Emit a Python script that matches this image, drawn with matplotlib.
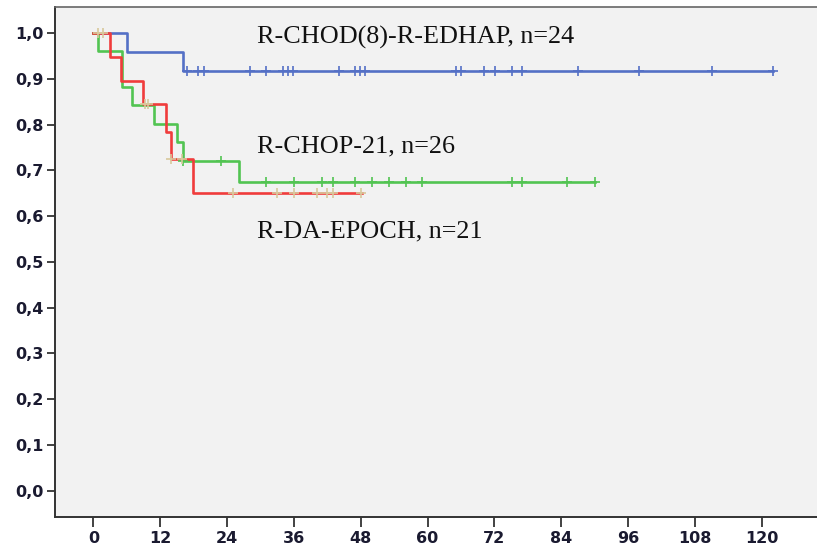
import numpy as np
import matplotlib
matplotlib.use('Agg')
import matplotlib.pyplot as plt

# Kaplan-Meier steps (event times in months, survival after each step)
blue_times = [0, 6.0, 16.1]
blue_surv = [1.0, 0.958, 0.917]
blue_end = 122.0
blue_cens = [16.9, 18.8, 19.9, 28.1, 31.0, 34.1, 35.0, 35.9, 44.1, 47.0, 47.9, 48.8,
             65.1, 66.0, 70.1, 72.1, 75.1, 77.0, 87.0, 98.0, 111.0, 122.0]

green_times = [0, 0.9, 5.1, 6.9, 10.9, 15.0, 16.1, 26.1]
green_surv = [1.0, 0.961, 0.882, 0.842, 0.802, 0.761, 0.721, 0.675]
green_end = 90.0
green_cens = [16.1, 23.0, 31.0, 36.0, 41.0, 43.1, 47.0, 50.0, 53.1, 56.1, 59.0,
              75.1, 77.0, 85.1, 90.0]

red_times = [0, 3.0, 5.0, 9.0, 13.0, 13.9, 17.9]
red_surv = [1.0, 0.948, 0.896, 0.844, 0.783, 0.724, 0.651]
red_end = 48.3
red_cens = [0.9, 1.7, 9.3, 9.9, 13.9, 16.0, 25.0, 32.9, 36.0, 40.1, 42.0, 43.0, 48.0]

labels = ['R-CHOD(8)-R-EDHAP, n=24', 'R-CHOP-21, n=26', 'R-DA-EPOCH, n=21']
label_pos = [(29.3, 0.976), (29.3, 0.740), (29.3, 0.554)]

xticks = list(range(0, 121, 12))
yticks = [i / 10 for i in range(0, 11)]


def surv_at(times, surv, t):
    # value of the step function at time t
    idx = np.searchsorted(times, t, side='right') - 1
    return np.array(surv)[idx]


fig = plt.figure(figsize=(8.17, 5.46), dpi=100)
ax = fig.add_axes([0.067, 0.0537, 0.933, 0.934])
ax.set_facecolor('#f2f2f2')

curves = [
    (blue_times, blue_surv, blue_end, blue_cens, '#5470c6', '#5470c6'),
    (green_times, green_surv, green_end, green_cens, '#52c452', '#52c452'),
    (red_times, red_surv, red_end, red_cens, '#f03c3c', '#d8c89c'),
]

for times, surv, end, cens, col, ccol in curves:
    ax.step(times + [end], surv + [surv[-1]], where='post', color=col, lw=1.9, zorder=3)
    cy = surv_at(times, surv, np.array(cens))
    ax.plot(cens, cy, ls='none', marker='+', ms=6.5, mew=1.2, color=ccol, zorder=4)

for txt, (x, y) in zip(labels, label_pos):
    ax.text(x, y, txt, family='Liberation Serif', fontsize=18.8, color='#111111',
            va='baseline', ha='left')

ax.set_xlim(-6.93, 129.9)
ax.set_ylim(-0.0568, 1.0575)
ax.set_xticks(xticks)
ax.set_yticks(yticks)
ax.set_xticklabels([str(t) for t in xticks])
ax.set_yticklabels([f'{t:.1f}'.replace('.', ',') for t in yticks])

for lab in ax.get_xticklabels() + ax.get_yticklabels():
    lab.set_fontweight('bold')
    lab.set_fontsize(11.5)
    lab.set_color('#1a1a30')

ax.tick_params(axis='x', length=7, width=1.3, color='#333333', pad=3)
ax.tick_params(axis='y', length=6, width=1.3, color='#333333', pad=2)

ax.spines['right'].set_visible(False)
for s in ['left', 'bottom']:
    ax.spines[s].set_color('#333333')
    ax.spines[s].set_linewidth(1.4)
ax.spines['top'].set_color('#666666')
ax.spines['top'].set_linewidth(1.2)

fig.savefig('out.png', dpi=100)
